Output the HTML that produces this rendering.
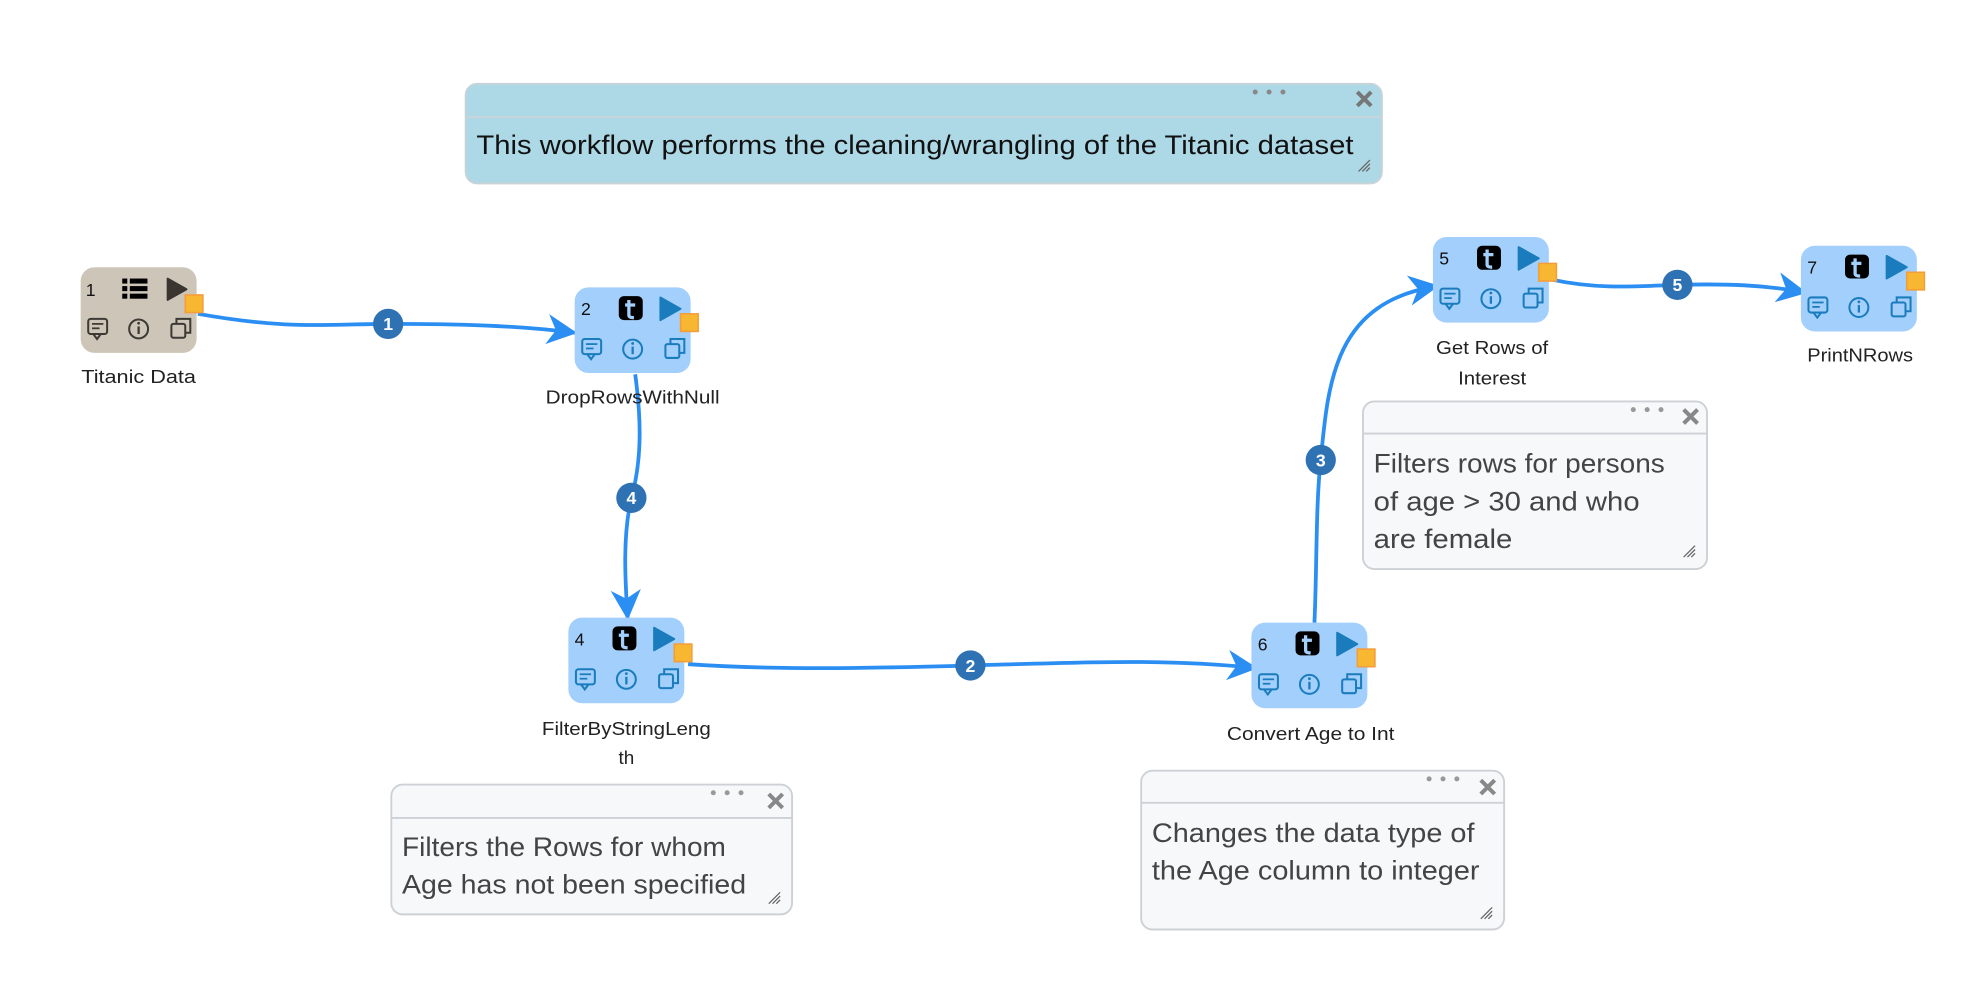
<!DOCTYPE html>
<html><head><meta charset="utf-8"><style>
html,body{margin:0;padding:0;background:#fff;width:1966px;height:1006px;overflow:hidden}
svg{display:block}
text{font-family:"Liberation Sans",sans-serif}
</style></head><body>
<svg width="1966" height="1006" viewBox="0 0 1560 798.2" preserveAspectRatio="none" xmlns="http://www.w3.org/2000/svg">
<defs>
<g id="icons">
  <rect x="6" y="41" width="15" height="12" rx="2" fill="none" stroke="currentColor" stroke-width="1.6"/>
  <path d="M10 53 L13 57 L16 53" fill="none" stroke="currentColor" stroke-width="1.6"/>
  <line x1="9" y1="45" x2="18" y2="45" stroke="currentColor" stroke-width="1.4"/>
  <line x1="9" y1="48.5" x2="15" y2="48.5" stroke="currentColor" stroke-width="1.4"/>
  <circle cx="46" cy="49" r="7.5" fill="none" stroke="currentColor" stroke-width="1.6"/>
  <line x1="46" y1="47" x2="46" y2="53" stroke="currentColor" stroke-width="1.8"/>
  <circle cx="46" cy="44.5" r="1.1" fill="currentColor"/>
  <rect x="72" y="45" width="11" height="11" rx="1.5" fill="none" stroke="currentColor" stroke-width="1.6"/>
  <path d="M76 45 V41 H87 V52 H83" fill="none" stroke="currentColor" stroke-width="1.6"/>
</g>
<g id="tnode">
  <rect x="0" y="0" width="92" height="68" rx="11" fill="#a2cffb"/>
  <rect x="35" y="7" width="19" height="19" rx="4" fill="#000"/>
  <path d="M43 10 V22 Q43 24 47 24 M40 14 H48" fill="none" stroke="#a2cffb" stroke-width="2.6"/>
  <path d="M68 8 L84 17 L68 26 Z" fill="#1a7cbc" stroke="#1a7cbc" stroke-width="1.5" stroke-linejoin="round"/>
  <rect x="84" y="21" width="14" height="14" fill="#f7b731" stroke="#f59c3b" stroke-width="1.2"/>
  <g color="#1a7cbc"><use href="#icons"/></g>
</g>
<marker id="ah" viewBox="0 0 24 24" refX="22" refY="12" markerWidth="24" markerHeight="24" markerUnits="userSpaceOnUse" orient="auto">
  <path d="M0 0 L24 12 L0 24 L7 12 Z" fill="#2b8ef2"/>
</marker>
</defs>

<rect x="369.5" y="66.5" width="727" height="79" rx="9" fill="#add8e6" stroke="#c6d3d8" stroke-width="1.5"/>
<line x1="370" y1="93" x2="1096" y2="93" stroke="#c9d5da" stroke-width="1.5"/>
<circle cx="996" cy="73" r="2" fill="#888"/><circle cx="1007" cy="73" r="2" fill="#888"/><circle cx="1018" cy="73" r="2" fill="#888"/>
<path d="M1077 73 L1088 84 M1088 73 L1077 84" stroke="#777" stroke-width="3.2"/>
<text x="378" y="122" font-size="21" fill="#111" textLength="696" lengthAdjust="spacingAndGlyphs">This workflow performs the cleaning/wrangling of the Titanic dataset</text>
<path d="M1078 136 L1087 127 M1081 136 L1087 130 M1084 136 L1087 133" stroke="#666" stroke-width="1"/>

<g>
<rect x="1081.5" y="318.5" width="273" height="133" rx="9" fill="#f7f8fa" stroke="#cdd1d6" stroke-width="1.5"/>
<line x1="1082" y1="344" x2="1354" y2="344" stroke="#cdd1d6" stroke-width="1.5"/>
<circle cx="1296" cy="325" r="2" fill="#999"/><circle cx="1307" cy="325" r="2" fill="#999"/><circle cx="1318" cy="325" r="2" fill="#999"/>
<path d="M1336 325 L1347 336 M1347 325 L1336 336" stroke="#888" stroke-width="3.2"/>
<text x="1090" y="375" font-size="21" fill="#444" textLength="231" lengthAdjust="spacingAndGlyphs">Filters rows for persons</text>
<text x="1090" y="405" font-size="21" fill="#444" textLength="211" lengthAdjust="spacingAndGlyphs">of age &gt; 30 and who</text>
<text x="1090" y="435" font-size="21" fill="#444" textLength="110" lengthAdjust="spacingAndGlyphs">are female</text>
<path d="M1336 442 L1345 433 M1339 442 L1345 436 M1342 442 L1345 439" stroke="#666" stroke-width="1"/>
</g>
<g>
<rect x="310.5" y="622.5" width="318" height="103" rx="9" fill="#f7f8fa" stroke="#cdd1d6" stroke-width="1.5"/>
<line x1="311" y1="649" x2="628" y2="649" stroke="#cdd1d6" stroke-width="1.5"/>
<circle cx="566" cy="629" r="2" fill="#999"/><circle cx="577" cy="629" r="2" fill="#999"/><circle cx="588" cy="629" r="2" fill="#999"/>
<path d="M610 630 L621 641 M621 630 L610 641" stroke="#888" stroke-width="3.2"/>
<text x="319" y="679" font-size="21" fill="#444" textLength="257" lengthAdjust="spacingAndGlyphs">Filters the Rows for whom</text>
<text x="319" y="709" font-size="21" fill="#444" textLength="273" lengthAdjust="spacingAndGlyphs">Age has not been specified</text>
<path d="M610 717 L619 708 M613 717 L619 711 M616 717 L619 714" stroke="#666" stroke-width="1"/>
</g>
<g>
<rect x="905.5" y="611.5" width="288" height="126" rx="9" fill="#f7f8fa" stroke="#cdd1d6" stroke-width="1.5"/>
<line x1="906" y1="637" x2="1193" y2="637" stroke="#cdd1d6" stroke-width="1.5"/>
<circle cx="1134" cy="618" r="2" fill="#999"/><circle cx="1145" cy="618" r="2" fill="#999"/><circle cx="1156" cy="618" r="2" fill="#999"/>
<path d="M1175 619 L1186 630 M1186 619 L1175 630" stroke="#888" stroke-width="3.2"/>
<text x="914" y="668" font-size="21" fill="#444" textLength="256" lengthAdjust="spacingAndGlyphs">Changes the data type of</text>
<text x="914" y="698" font-size="21" fill="#444" textLength="260" lengthAdjust="spacingAndGlyphs">the Age column to integer</text>
<path d="M1175 729 L1184 720 M1178 729 L1184 723 M1181 729 L1184 726" stroke="#666" stroke-width="1"/>
</g>

<g fill="none" stroke="#2b8ef2" stroke-width="3">
<path d="M157 249 C230 262 260 257 308 257 C360 257 410 258 456 264" marker-end="url(#ah)"/>
<path d="M504 297 C510 340 508 370 501 395 C494 425 496 460 498 490" marker-end="url(#ah)"/>
<path d="M546 527 C620 532 700 530 770 528 C850 526 920 522 996 530" marker-end="url(#ah)"/>
<path d="M1043 494 C1045 450 1044 400 1048 365 C1054 300 1060 240 1140 227" marker-end="url(#ah)"/>
<path d="M1232 222 C1270 230 1300 227 1331 226 C1370 225 1400 226 1432 232" marker-end="url(#ah)"/>
</g>
<g font-size="14" font-weight="bold" fill="#fff" text-anchor="middle">
<circle cx="308" cy="257" r="12" fill="#2f72b4"/><text x="308" y="262">1</text>
<circle cx="501" cy="395" r="12" fill="#2f72b4"/><text x="501" y="400">4</text>
<circle cx="770" cy="528" r="12" fill="#2f72b4"/><text x="770" y="533">2</text>
<circle cx="1048" cy="365" r="12" fill="#2f72b4"/><text x="1048" y="370">3</text>
<circle cx="1331" cy="226" r="12" fill="#2f72b4"/><text x="1331" y="231">5</text>
</g>

<g transform="translate(64,212)">
  <rect x="0" y="0" width="92" height="68" rx="11" fill="#cdc6b8"/>
  <g fill="#000"><rect x="33" y="9" width="4" height="4"/><rect x="39" y="9" width="14" height="4"/><rect x="33" y="15" width="4" height="4"/><rect x="39" y="15" width="14" height="4"/><rect x="33" y="21" width="4" height="4"/><rect x="39" y="21" width="14" height="4"/></g>
  <path d="M69 9 L84 17.5 L69 26 Z" fill="#3a3530" stroke="#3a3530" stroke-width="1.5" stroke-linejoin="round"/>
  <rect x="83" y="22" width="14" height="14" fill="#f7b731" stroke="#f59c3b" stroke-width="1.2"/>
  <text x="4" y="23" font-size="14" fill="#111">1</text>
  <g color="#3d3a35"><use href="#icons"/></g>
</g>
<text x="110" y="304" font-size="15" fill="#222" text-anchor="middle" textLength="91" lengthAdjust="spacingAndGlyphs">Titanic Data</text>

<g transform="translate(456,228)"><use href="#tnode"/><text x="5" y="22" font-size="14" fill="#111">2</text></g>
<text x="502" y="320" font-size="15" fill="#222" text-anchor="middle" textLength="138" lengthAdjust="spacingAndGlyphs">DropRowsWithNull</text>

<g transform="translate(451,490)"><use href="#tnode"/><text x="5" y="22" font-size="14" fill="#111">4</text></g>
<text x="497" y="583" font-size="15" fill="#222" text-anchor="middle" textLength="134" lengthAdjust="spacingAndGlyphs">FilterByStringLeng</text>
<text x="497" y="606" font-size="15" fill="#222" text-anchor="middle">th</text>

<g transform="translate(993,494)"><use href="#tnode"/><text x="5" y="22" font-size="14" fill="#111">6</text></g>
<text x="1040" y="587" font-size="15" fill="#222" text-anchor="middle" textLength="133" lengthAdjust="spacingAndGlyphs">Convert Age to Int</text>

<g transform="translate(1137,188)"><use href="#tnode"/><text x="5" y="22" font-size="14" fill="#111">5</text></g>
<text x="1184" y="281" font-size="15" fill="#222" text-anchor="middle" textLength="89" lengthAdjust="spacingAndGlyphs">Get Rows of</text>
<text x="1184" y="305" font-size="15" fill="#222" text-anchor="middle" textLength="54" lengthAdjust="spacingAndGlyphs">Interest</text>

<g transform="translate(1429,195)"><use href="#tnode"/><text x="5" y="22" font-size="14" fill="#111">7</text></g>
<text x="1476" y="287" font-size="15" fill="#222" text-anchor="middle" textLength="84" lengthAdjust="spacingAndGlyphs">PrintNRows</text>
</svg>
</body></html>
